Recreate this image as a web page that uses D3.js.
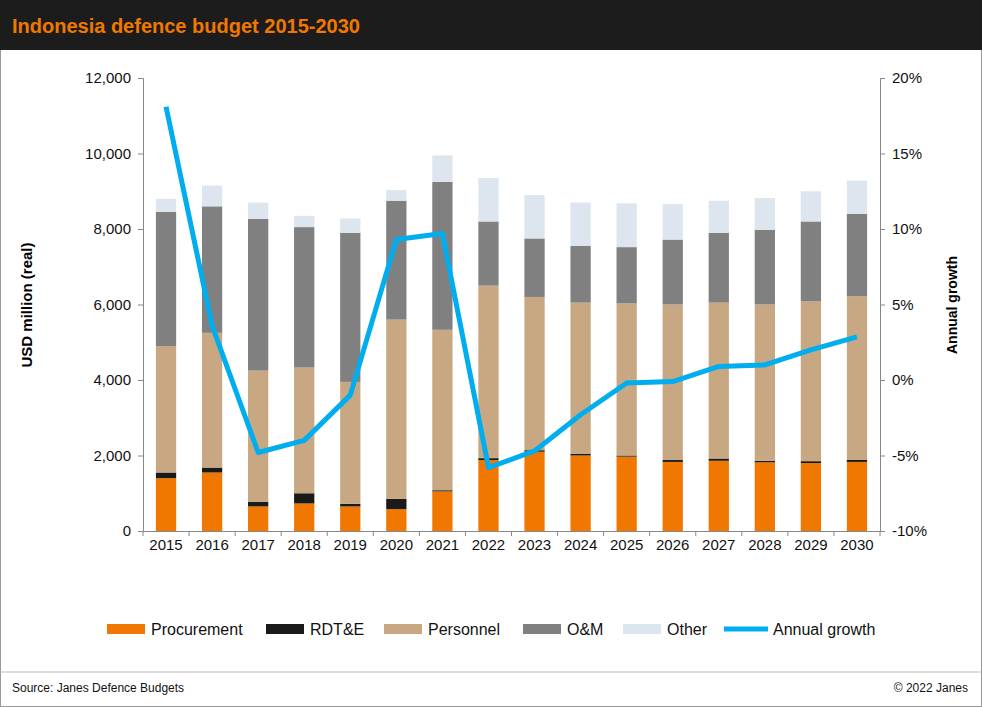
<!DOCTYPE html>
<html><head><meta charset="utf-8">
<script src="https://cdn.jsdelivr.net/npm/d3@7"></script>
<style>body{margin:0;background:#fff;font-family:"Liberation Sans",Arial,sans-serif}</style>
</head><body>
<svg id="chart" width="982" height="707"></svg>
<script>
var years = ["2015","2016","2017","2018","2019","2020","2021","2022","2023","2024","2025","2026","2027","2028","2029","2030"];
var procurement = [1400,1550,650,730,650,580,1050,1880,2100,2000,1970,1830,1860,1820,1800,1830];
var rdte = [150,130,120,270,70,270,30,50,40,40,30,50,60,40,50,60];
var personnel = [3350,3570,3480,3330,3230,4750,4250,4570,4060,4010,4030,4120,4130,4140,4230,4330];
var om = [3550,3350,4020,3720,3950,3150,3920,1700,1550,1500,1490,1720,1850,1980,2120,2180];
var other = [350,550,430,300,380,280,700,1150,1150,1150,1160,940,850,840,800,880];
var growth = [18.1,3.6,-4.8,-4.0,-1.0,9.3,9.7,-5.8,-4.7,-2.3,-0.2,-0.1,0.9,1.0,2.0,2.85];

var series = [
  {name:"Procurement", vals:procurement, color:"#f07800"},
  {name:"RDT&E", vals:rdte, color:"#1a1a1a"},
  {name:"Personnel", vals:personnel, color:"#c8a882"},
  {name:"O&M", vals:om, color:"#808080"},
  {name:"Other", vals:other, color:"#dde6ee"}
];

var svg = d3.select("#chart");
svg.append("rect").attr("x",0.5).attr("y",0.5).attr("width",981).attr("height",706).attr("fill","#fff").attr("stroke","#999");
svg.append("rect").attr("x",0).attr("y",0).attr("width",982).attr("height",50).attr("fill","#1c1c1c");
svg.append("text").attr("x",12).attr("y",33).attr("fill","#f07800").attr("font-size",20).attr("font-weight","bold").text("Indonesia defence budget 2015-2030");

var pLeft = 143, pRight = 880, pTop = 78, pBottom = 531;
var x = d3.scaleBand().domain(years).range([pLeft,pRight]).paddingInner(0.56).paddingOuter(0.28);
var y = d3.scaleLinear().domain([0,12000]).range([pBottom,pTop]);
var y2 = d3.scaleLinear().domain([-10,20]).range([pBottom,pTop]);

// stacked bars
var base = years.map(function(){return 0;});
series.forEach(function(s){
  svg.append("g").selectAll("rect").data(years).join("rect")
    .attr("x", function(d){return x(d);})
    .attr("width", x.bandwidth())
    .attr("y", function(d,i){return y(base[i]+s.vals[i]);})
    .attr("height", function(d,i){return y(base[i])-y(base[i]+s.vals[i]);})
    .attr("fill", s.color);
  base = base.map(function(b,i){return b+s.vals[i];});
});

// axes
var ga = svg.append("g").attr("transform","translate("+pLeft+",0)")
  .call(d3.axisLeft(y).tickValues(d3.range(0,12001,2000)).tickFormat(d3.format(",")).tickSize(5));
var gr = svg.append("g").attr("transform","translate("+pRight+",0)")
  .call(d3.axisRight(y2).tickValues(d3.range(-10,21,5)).tickFormat(function(d){return d+"%";}).tickSize(5));
var gb = svg.append("g").attr("transform","translate(0,"+pBottom+")")
  .call(d3.axisBottom(x).tickSize(0).tickPadding(8));
[ga,gr,gb].forEach(function(g){
  g.selectAll("path,line").attr("stroke","#888");
  g.selectAll("text").attr("font-size",15).attr("fill","#111").attr("font-family","Liberation Sans, Arial, sans-serif");
});
ga.selectAll(".tick text").attr("dx",-4);
gr.selectAll(".tick text").attr("dx",4);
// category separator ticks
svg.append("g").selectAll("line").data(d3.range(years.length+1)).join("line")
  .attr("x1",function(i){return pLeft+i*(pRight-pLeft)/years.length;})
  .attr("x2",function(i){return pLeft+i*(pRight-pLeft)/years.length;})
  .attr("y1",pBottom).attr("y2",pBottom+5).attr("stroke","#888");

// growth line
svg.append("path").datum(growth)
  .attr("fill","none").attr("stroke","#00aeef").attr("stroke-width",5).attr("stroke-linejoin","round")
  .attr("d", d3.line().x(function(d,i){return x(years[i])+x.bandwidth()/2;}).y(function(d){return y2(d);}));

// axis titles
svg.append("text").attr("transform","translate(32,305) rotate(-90)").attr("text-anchor","middle")
  .attr("font-size",15).attr("font-weight","bold").text("USD million (real)");
svg.append("text").attr("transform","translate(957,305) rotate(-90)").attr("text-anchor","middle")
  .attr("font-size",14).attr("font-weight","bold").text("Annual growth");

// legend
var legend = [
  {name:"Procurement", color:"#f07800", x:107},
  {name:"RDT&E", color:"#1a1a1a", x:266},
  {name:"Personnel", color:"#c8a882", x:384},
  {name:"O&M", color:"#808080", x:523},
  {name:"Other", color:"#dde6ee", x:623},
  {name:"Annual growth", color:"#00aeef", x:724, line:true}
];
legend.forEach(function(l){
  if(l.line){
    svg.append("line").attr("x1",l.x).attr("x2",l.x+44).attr("y1",629).attr("y2",629).attr("stroke",l.color).attr("stroke-width",5);
    svg.append("text").attr("x",l.x+49).attr("y",635).attr("font-size",16).attr("fill","#111").text(l.name);
  } else {
    svg.append("rect").attr("x",l.x).attr("y",624).attr("width",38).attr("height",10).attr("fill",l.color);
    svg.append("text").attr("x",l.x+44).attr("y",635).attr("font-size",16).attr("fill","#111").text(l.name);
  }
});

svg.append("line").attr("x1",0).attr("x2",982).attr("y1",672).attr("y2",672).attr("stroke","#bbb");
svg.append("text").attr("x",12).attr("y",692).attr("font-size",12).attr("fill","#111").text("Source: Janes Defence Budgets");
svg.append("text").attr("x",968).attr("y",692).attr("text-anchor","end").attr("font-size",12).attr("fill","#111").text("© 2022 Janes");
</script>
</body></html>
